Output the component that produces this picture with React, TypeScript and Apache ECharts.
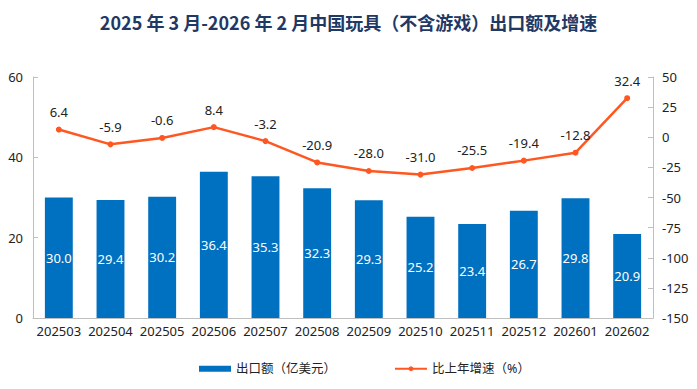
import React, { useEffect, useRef } from "react";
import * as echarts from "echarts";

const categories = ["202503", "202504", "202505", "202506", "202507", "202508", "202509", "202510", "202511", "202512", "202601", "202602"];
const exportValues = [30.0, 29.4, 30.2, 36.4, 35.3, 32.3, 29.3, 25.2, 23.4, 26.7, 29.8, 20.9];
const growthValues = [6.4, -5.9, -0.6, 8.4, -3.2, -20.9, -28.0, -31.0, -25.5, -19.4, -12.8, 32.4];
const titleText = "2025 年 3 月-2026 年 2 月中国玩具（不含游戏）出口额及增速";
const barName = "出口额（亿美元）";
const lineName = "比上年增速（%）";

const FONT = "'Noto Sans', 'Noto Sans CJK SC', sans-serif";

export default function App() {
  const ref = useRef<HTMLDivElement>(null);
  useEffect(() => {
    if (!ref.current) return;
    const chart = echarts.init(ref.current, undefined, { renderer: "svg" });
    chart.setOption({
      animation: false,
      backgroundColor: "#ffffff",
      textStyle: { fontFamily: FONT },
      title: {
        text: titleText,
        left: "center",
        top: 8,
        textStyle: { fontSize: 18, fontWeight: "bold", color: "#1F3864", fontFamily: "'Noto Sans CJK SC', sans-serif" },
      },
      legend: {
        bottom: 9,
        left: 194,
        itemGap: 58,
        itemWidth: 32,
        itemHeight: 6,
        textStyle: { fontSize: 12.5, color: "#222", fontFamily: FONT },
        data: [
          { name: barName, icon: "rect" },
          { name: lineName },
        ],
      },
      grid: { left: 33, right: 44, top: 77, bottom: 71, containLabel: false },
      xAxis: {
        type: "category",
        data: categories,
        axisLine: { lineStyle: { color: "#bfbfbf", width: 1 } },
        axisTick: { show: false },
        axisLabel: { interval: 0, fontSize: 13, color: "#222", margin: 6, fontFamily: FONT },
      },
      yAxis: [
        {
          type: "value",
          min: 0,
          max: 60,
          interval: 20,
          splitLine: { show: false },
          axisLine: { show: true, lineStyle: { color: "#bfbfbf" } },
          axisTick: { show: true, inside: true, length: 5, lineStyle: { color: "#bfbfbf" } },
          axisLabel: { fontSize: 13, color: "#222", margin: 10, fontFamily: FONT },
        },
        {
          type: "value",
          min: -150,
          max: 50,
          interval: 25,
          splitLine: { show: false },
          axisLine: { show: true, lineStyle: { color: "#bfbfbf" } },
          axisTick: { show: true, inside: true, length: 5, lineStyle: { color: "#bfbfbf" } },
          axisLabel: { fontSize: 13, color: "#222", margin: 9, fontFamily: FONT },
        },
      ],
      series: [
        {
          name: barName,
          type: "bar",
          data: exportValues,
          barWidth: "54%",
          itemStyle: { color: "#0070C0" },
          label: {
            show: true,
            position: "inside",
            color: "#ffffff",
            fontSize: 13,
            fontFamily: FONT,
            formatter: (p: any) => p.value.toFixed(1),
          },
        },
        {
          name: lineName,
          type: "line",
          yAxisIndex: 1,
          data: growthValues,
          symbol: "circle",
          symbolSize: 6,
          lineStyle: { color: "#FF5722", width: 2.5 },
          itemStyle: { color: "#FF5722" },
          label: {
            show: true,
            position: "top",
            distance: 8,
            color: "#222",
            fontSize: 13,
            fontFamily: FONT,
            formatter: (p: any) => p.value.toFixed(1),
          },
        },
      ],
    });
    return () => chart.dispose();
  }, []);
  return <div ref={ref} style={{ position: "absolute", left: 0, top: 0, width: 697, height: 389 }} />;
}
